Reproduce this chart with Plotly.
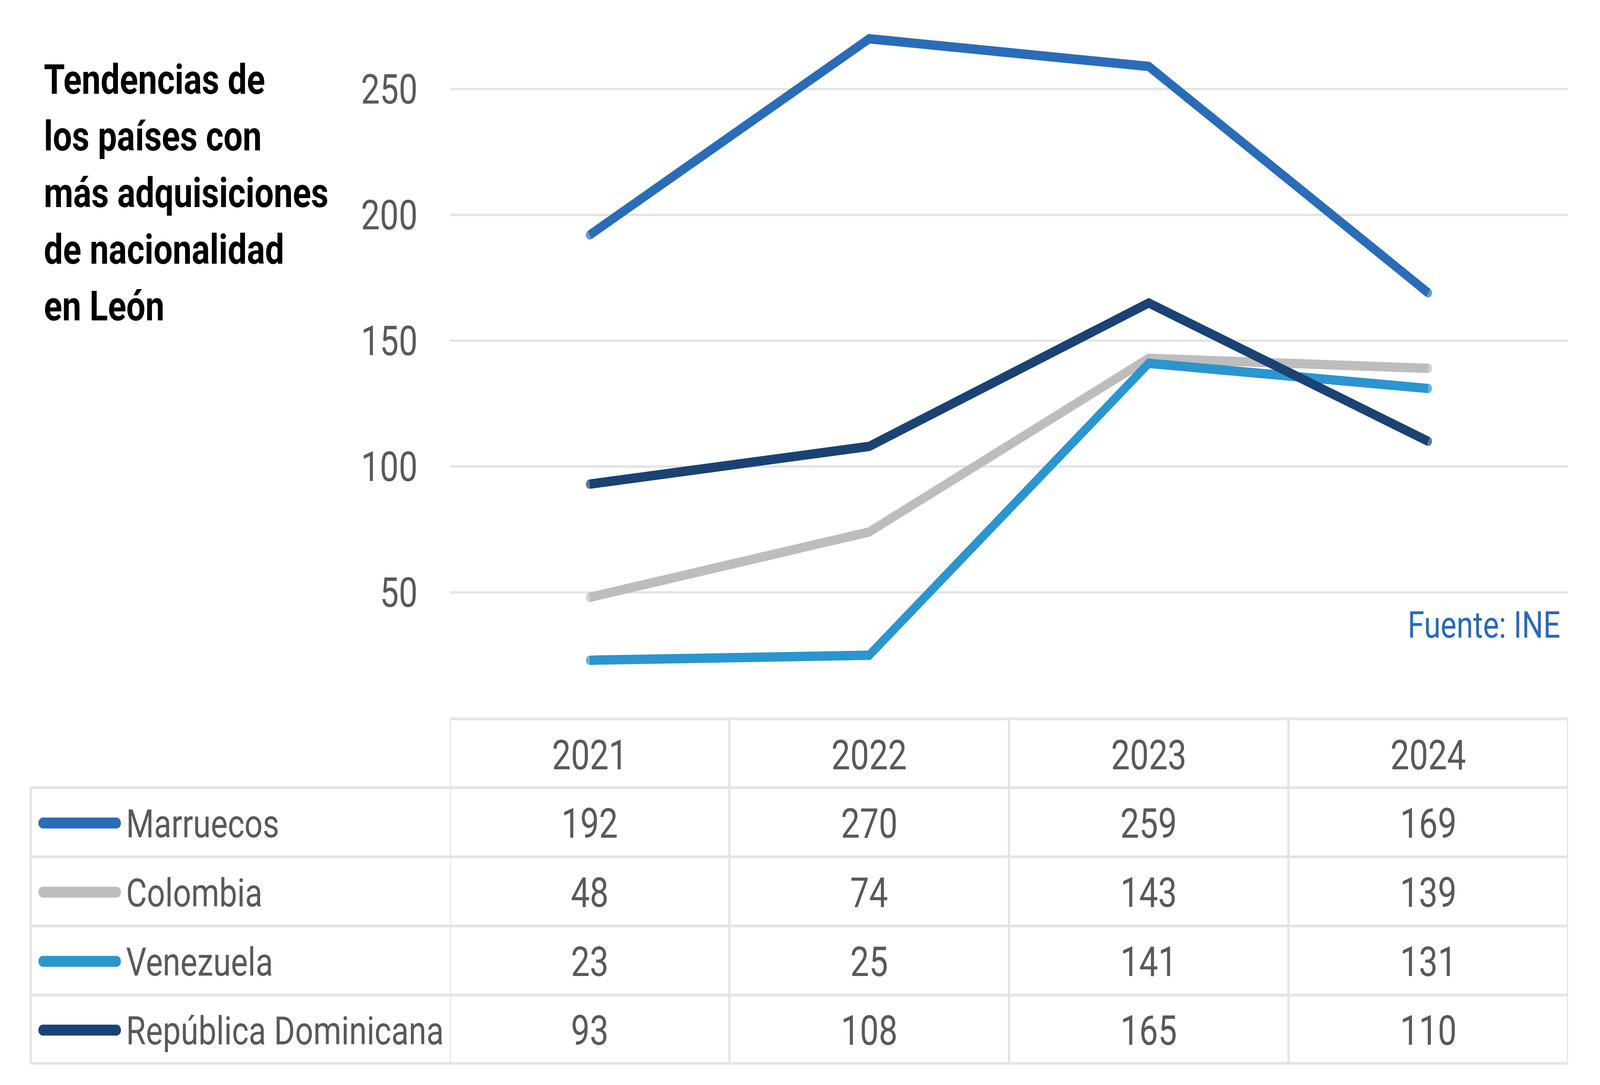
import plotly.graph_objects as go

# ---------------- data ----------------
years = ["2021", "2022", "2023", "2024"]
series_names = ["Marruecos", "Colombia", "Venezuela", "República Dominicana"]
marruecos = [192, 270, 259, 169]
colombia = [48, 74, 143, 139]
venezuela = [23, 25, 141, 131]
rep_dominicana = [93, 108, 165, 110]
series_values = [marruecos, colombia, venezuela, rep_dominicana]
series_colors = ["#2A6CB7", "#BDBDBD", "#2B95CF", "#1A4273"]
y_ticks = [50, 100, 150, 200, 250]
title_lines = ["Tendencias de", "los países con", "más adquisiciones",
               "de nacionalidad", "en León"]
source_text = "Fuente: INE"

# ---------------- layout constants (pixels) ----------------
W, H = 5000, 2777
L, R = 1406, 4900          # plot area left/right
PB = 1838                  # plot area bottom (value 0)
PW = R - L
Y_MAX = 285.4
FONT = "Roboto, 'Noto Sans', sans-serif"
TXT = "#595959"
GRID = "#E4E4E4"
LW = 24


def X(px):
    return (px - L) / PW


def Y(py):
    return (PB - py) / PB


fig = go.Figure()

for name, vals, col in zip(series_names, series_values, series_colors):
    fig.add_trace(go.Scatter(
        x=years, y=vals, name=name, mode="lines+markers",
        line=dict(color=col, width=LW),
        marker=dict(size=[LW, 0, 0, LW], color=col, line=dict(width=0)),
        showlegend=False, hoverinfo="skip",
    ))

shapes = []
annotations = []

# title
title_baselines = [242, 387, 532, 677, 822]
for line, bl in zip(title_lines, title_baselines):
    annotations.append(dict(
        xref="paper", yref="paper", x=X(135), y=Y(bl - 38),
        xanchor="left", yanchor="middle", showarrow=False, text=line,
        font=dict(family=FONT, size=106, color="#000000", weight="bold"),
    ))

# source
annotations.append(dict(
    xref="paper", yref="paper", x=X(4878), y=Y(1600),
    xanchor="right", yanchor="middle", showarrow=False, text=source_text,
    font=dict(family=FONT, size=94, color="#2A6AB4"),
))

# ---------------- data table ----------------
row_edges = [1840, 2016, 2193, 2370, 2547, 2722]
TBL_LEFT = 96
BW = 7

shapes.append(dict(type="line", xref="x", yref="paper", x0=-0.5, x1=3.5,
                   y0=Y(row_edges[0]), y1=Y(row_edges[0]),
                   line=dict(color=GRID, width=BW)))
for e in row_edges[1:]:
    shapes.append(dict(type="line", xref="paper", yref="paper",
                       x0=X(TBL_LEFT), x1=1, y0=Y(e), y1=Y(e),
                       line=dict(color=GRID, width=BW)))
for i in range(len(years) + 1):
    shapes.append(dict(type="line", xref="x", yref="paper", x0=i - 0.5, x1=i - 0.5,
                       y0=Y(row_edges[0]), y1=Y(row_edges[-1]),
                       line=dict(color=GRID, width=BW)))
shapes.append(dict(type="line", xref="paper", yref="paper", x0=X(TBL_LEFT), x1=X(TBL_LEFT),
                   y0=Y(row_edges[1]), y1=Y(row_edges[-1]),
                   line=dict(color=GRID, width=BW)))

hc = (row_edges[0] + row_edges[1]) / 2 + 6
for i, yr in enumerate(years):
    annotations.append(dict(xref="x", yref="paper", x=i, y=Y(hc),
                            xanchor="center", yanchor="middle", showarrow=False, text=yr,
                            font=dict(family=FONT, size=105, color=TXT)))

sw_w, sw_h = 258, 28
r = sw_h / 2
k = 0.5523 * r
path = (f"M {r},{r} L {sw_w - r},{r} "
        f"C {sw_w - r + k},{r} {sw_w},{k} {sw_w},0 "
        f"C {sw_w},{-k} {sw_w - r + k},{-r} {sw_w - r},{-r} "
        f"L {r},{-r} "
        f"C {r - k},{-r} 0,{-k} 0,0 "
        f"C 0,{k} {r - k},{r} {r},{r} Z")

for j, (name, vals, col) in enumerate(zip(series_names, series_values, series_colors)):
    cy = (row_edges[j + 1] + row_edges[j + 2]) / 2 + 4
    shapes.append(dict(type="path", xref="paper", yref="paper",
                       xsizemode="pixel", ysizemode="pixel",
                       xanchor=X(120), yanchor=Y(cy - 2), path=path,
                       fillcolor=col, line=dict(width=0)))
    annotations.append(dict(xref="paper", yref="paper", x=X(392), y=Y(cy),
                            xanchor="left", yanchor="middle", showarrow=False, text=name,
                            font=dict(family=FONT, size=100, color=TXT)))
    for i, v in enumerate(vals):
        annotations.append(dict(xref="x", yref="paper", x=i, y=Y(cy),
                                xanchor="center", yanchor="middle", showarrow=False,
                                text=str(v),
                                font=dict(family=FONT, size=105, color=TXT)))

fig.update_layout(
    width=W, height=H,
    margin=dict(l=L, r=W - R, t=0, b=H - PB, pad=0),
    paper_bgcolor="white", plot_bgcolor="white",
    shapes=shapes, annotations=annotations,
    xaxis=dict(type="category", range=[-0.5, 3.5], showticklabels=False,
               showgrid=False, zeroline=False, showline=False, ticks=""),
    yaxis=dict(range=[0, Y_MAX], tickvals=y_ticks, ticktext=[str(t) for t in y_ticks],
               showgrid=True, gridcolor=GRID, gridwidth=6, zeroline=False,
               showline=False, ticks="", ticklabelstandoff=100,
               tickfont=dict(family=FONT, size=105, color=TXT)),
)

# The browser window may be narrower than the 5000x2777 design; fit the
# figure to the window so the whole chart is visible.
fit_script = """
(function () {
  var gd = document.getElementById('{plot_id}');
  document.documentElement.style.margin = '0';
  document.documentElement.style.overflow = 'hidden';
  document.body.style.margin = '0';
  document.body.style.overflow = 'hidden';
  var sx = window.innerWidth / %d, sy = window.innerHeight / %d;
  gd.style.transformOrigin = '0 0';
  gd.style.transform = 'scale(' + sx + ',' + sy + ')';
})();
""" % (W, H)
fig.write_html("out.html", post_script=fit_script,
               config={"displayModeBar": False, "staticPlot": True})
